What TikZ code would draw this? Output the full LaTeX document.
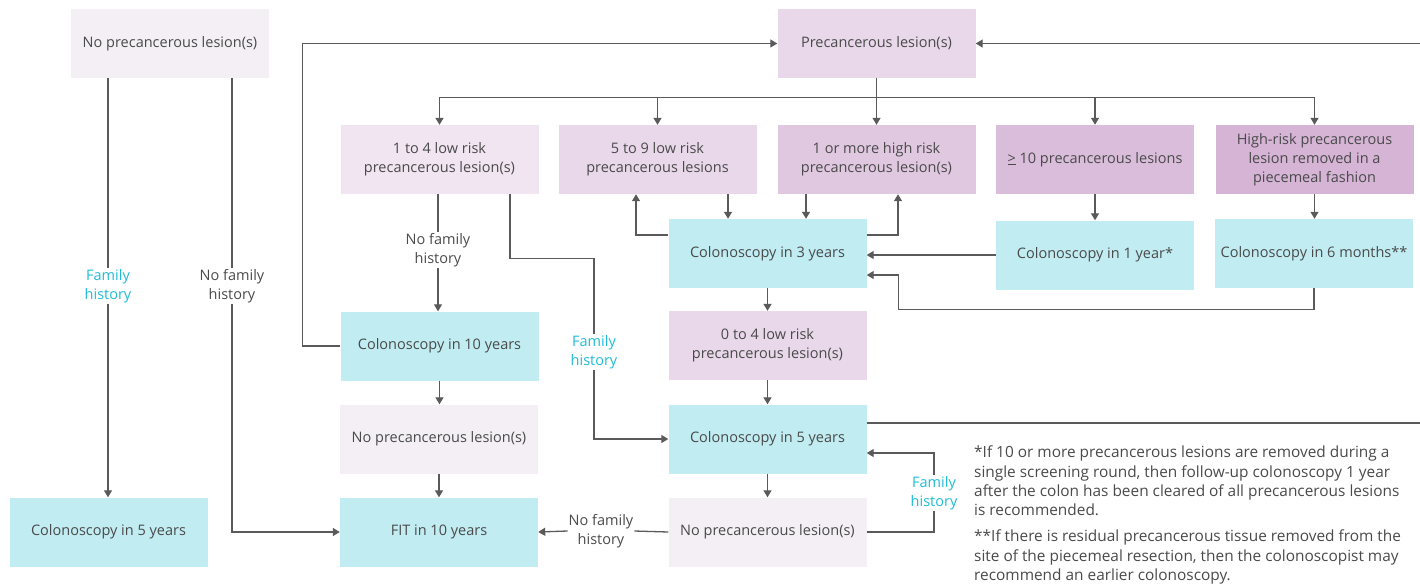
\documentclass[tikz,border=0pt]{standalone}
\usepackage{fontspec}
\setmainfont{Open Sans}
\usetikzlibrary{arrows.meta}
\definecolor{txt}{HTML}{4A4A4A}
\definecolor{lnc}{HTML}{5A5A5A}
\definecolor{fhc}{HTML}{1EBCD8}
\definecolor{pA}{HTML}{F3EFF5}
\definecolor{pB}{HTML}{F0E5F1}
\definecolor{pC}{HTML}{E8D8EA}
\definecolor{pD}{HTML}{E0C8E1}
\definecolor{pE}{HTML}{DABDDB}
\definecolor{pF}{HTML}{D5B4D6}
\definecolor{cy}{HTML}{C0ECF2}
\begin{document}
\begin{tikzpicture}[x=1pt,y=-1pt,
  font=\fontsize{14.5}{19}\selectfont,
  box/.style={minimum width=198pt, minimum height=69pt, inner sep=2pt, align=center, text=txt},
  ln/.style={draw=lnc, line width=1.3pt},
  arr/.style={ln, -{Triangle[width=8pt,length=7pt]}},
  lab/.style={text=txt, align=center, inner sep=1pt},
  flab/.style={lab, text=fhc}]
\useasboundingbox (0,0) rectangle (1420,587);
% boxes
\node[box, fill=pA] (np1) at (170,43.5) {No precancerous lesion(s)};
\node[box, fill=pC] (pre) at (876.5,43.5) {Precancerous lesion(s)};
\node[box, fill=pB] (l1) at (439.5,159.5) {1 to 4 low risk\\precancerous lesion(s)};
\node[box, fill=pC] (l5) at (657.5,159.5) {5 to 9 low risk\\precancerous lesions};
\node[box, fill=pD] (h1) at (876.5,159.5) {1 or more high risk\\precancerous lesion(s)};
\node[box, fill=pE] (g10) at (1095,159.5) {\underline{>} 10 precancerous lesions};
\node[box, fill=pF] (hp) at (1314.5,159.5) {High-risk precancerous\\lesion removed in a\\piecemeal fashion};
\node[box, fill=cy] (c3) at (767.5,253.5) {Colonoscopy in 3 years};
\node[box, fill=cy] (c1) at (1095,255) {Colonoscopy in 1 year*};
\node[box, fill=cy] (c6) at (1314,253.5) {Colonoscopy in 6 months**};
\node[box, fill=pC] (c04) at (767.5,345.5) {0 to 4 low risk\\precancerous lesion(s)};
\node[box, fill=cy] (c5m) at (767.5,439) {Colonoscopy in 5 years};
\node[box, fill=pA] (np3) at (767.5,532) {No precancerous lesion(s)};
\node[box, fill=cy] (col10) at (439.5,346) {Colonoscopy in 10 years};
\node[box, fill=pA] (np2) at (439,439) {No precancerous lesion(s)};
\node[box, fill=cy] (fit) at (439,532) {FIT in 10 years};
\node[box, fill=cy] (c5l) at (108.5,532) {Colonoscopy in 5 years};
% labels
\node[flab] (fh1) at (108,286) {Family\\history};
\node[lab] (nfh1) at (232,286) {No family\\history};
\node[lab] (nfh2) at (438,250) {No family\\history};
\node[flab] (fh2) at (594,352) {Family\\history};
\node[flab] (fh3) at (934,493) {Family\\history};
\node[lab] (nfh3) at (601,531) {No family\\history};
\coordinate (e1) at (1420,423);
\coordinate (e2) at (1420,43.5);
% connectors
\draw[ln] (np1.south -| fh1) -- (fh1.north);
\draw[arr] (fh1.south) -- (fh1.south |- c5l.north);
\draw[ln] (np1.south -| nfh1) -- (nfh1.north);
\draw[arr] (nfh1.south) |- (fit.west);
\draw[arr] (col10.west) -- ++(-38,0) |- (pre.west);
\draw[arr] (e2) -- (pre.east);
\foreach \n in {l1,l5,g10,hp} \draw[arr] (pre.south) -- ++(0,19) -| (\n.north);
\draw[arr] (pre.south) -- (h1.north);
\draw[arr] ([xshift=70.5pt]l5.south) -- ([xshift=70.5pt]l5.south |- c3.north);
\draw[arr] ([xshift=-70.5pt]h1.south) -- ([xshift=-70.5pt]h1.south |- c3.north);
\draw[arr] ([yshift=18.5pt]c3.west) -| ([xshift=-21.5pt]l5.south);
\draw[arr] ([yshift=18.5pt]c3.east) -| ([xshift=21.5pt]h1.south);
\draw[arr] (c1.west) -- (c1.west -| c3.east);
\draw[arr] (g10.south) -- (g10.south |- c1.north);
\draw[arr] (hp.south) -- (hp.south |- c6.north);
\draw[arr] (c6.south) -- ++(0,21) -| ([xshift=32pt,yshift=-21.5pt]c3.east) -- ([yshift=-21.5pt]c3.east);
\draw[arr] (c3.south) -- (c04.north);
\draw[arr] (c04.south) -- (c5m.north);
\draw[arr] (c5m.south) -- (np3.north);
\draw[ln] ([yshift=16pt]c5m.east) -- (e1);
\draw[ln] (np3.east) -| (fh3.south);
\draw[arr] (fh3.north) |- ([yshift=-14pt]c5m.east);
\draw[ln] (np3.west) -- (nfh3.east);
\draw[arr] (nfh3.west) -- (fit.east);
\draw[ln] (l1.south -| nfh2) -- (nfh2.north);
\draw[arr] (nfh2.south) -- (nfh2.south |- col10.north);
\draw[ln] ([xshift=70.5pt]l1.south) -- ++(0,64) -| (fh2.north);
\draw[arr] (fh2.south) |- (c5m.west);
\draw[arr] (col10.south) -- (col10.south |- np2.north);
\draw[arr] (np2.south) -- (np2.south |- fit.north);
% footnotes
\node[lab, align=left, anchor=north west, font=\fontsize{15.4}{19.3}\selectfont] (fn1) at (973,445)
 {*If 10 or more precancerous lesions are removed during a\\single screening round, then follow-up colonoscopy 1 year\\after the colon has been cleared of all precancerous lesions\\is recommended.};
\node[lab, align=left, anchor=north west, font=\fontsize{15.4}{19.3}\selectfont] (fn2) at (973,529)
 {**If there is residual precancerous tissue removed from the\\site of the piecemeal resection, then the colonoscopist may\\recommend an earlier colonoscopy.};
\end{tikzpicture}
\end{document}
